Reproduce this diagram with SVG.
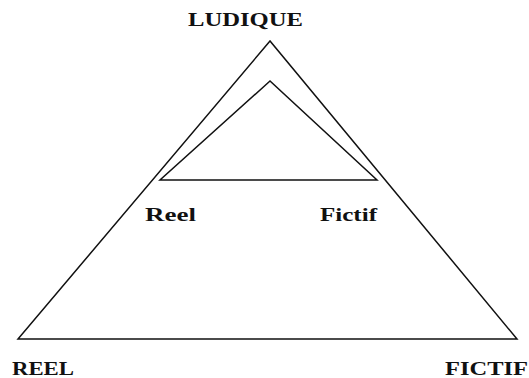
<svg xmlns="http://www.w3.org/2000/svg" width="529" height="378" viewBox="0 0 529 378">
<style>
.t{font-family:"Liberation Serif",serif;font-weight:bold;font-size:18px;fill:#111}
.s{fill:none;stroke:#111;stroke-width:1.5;stroke-linejoin:miter}
</style>
<rect width="529" height="378" fill="#fff"/>
<g id="connectors">
<polygon id="outer" class="s" points="270,41 18,339 517,339"/>
<polygon id="inner" class="s" points="270,81 160,180 377,180"/>
</g>
<g id="ludique"><text class="t" x="188" y="26" textLength="115" lengthAdjust="spacingAndGlyphs">LUDIQUE</text></g>
<g id="reel-small"><text class="t" x="145" y="221" textLength="51" lengthAdjust="spacingAndGlyphs">Reel</text></g>
<g id="fictif-small"><text class="t" x="320" y="221" textLength="57" lengthAdjust="spacingAndGlyphs">Fictif</text></g>
<g id="reel"><text class="t" x="12" y="375" textLength="62" lengthAdjust="spacingAndGlyphs">REEL</text></g>
<g id="fictif"><text class="t" x="445" y="375" textLength="83" lengthAdjust="spacingAndGlyphs">FICTIF</text></g>
</svg>
